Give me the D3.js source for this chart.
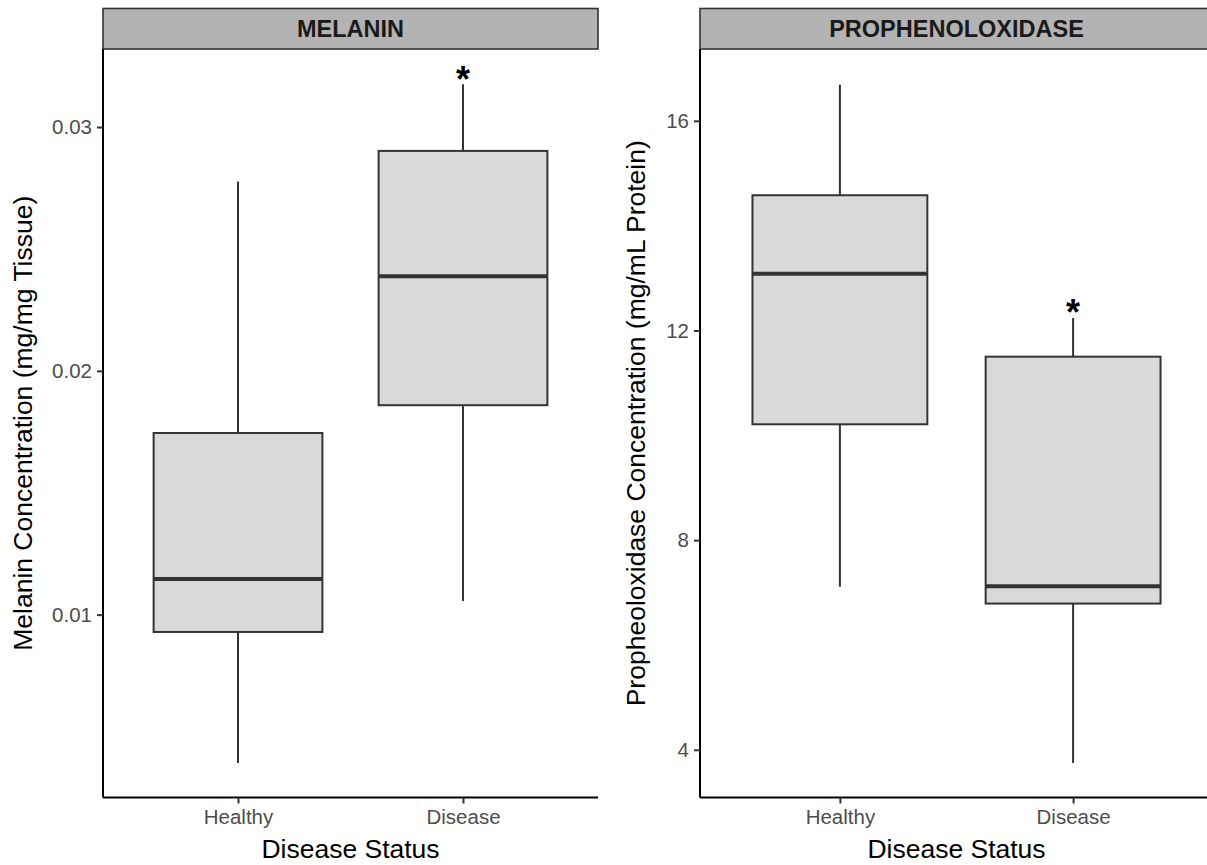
<!DOCTYPE html>
<html>
<head>
<meta charset="utf-8">
<script src="https://cdn.jsdelivr.net/npm/d3@7"></script>
<style>
  body { margin: 0; background: #fff; }
  svg { display: block; font-family: "Liberation Sans", Arial, sans-serif; }
</style>
</head>
<body>
<div id="chart"></div>
<script>
// groups on the x axis
var groups = ["Healthy", "Disease"];

// melanin (mg/mg tissue): whisker low, Q1, median, Q3, whisker high
var melaninLow    = [0.00392, 0.01056];
var melaninQ1     = [0.00929, 0.01859];
var melaninMedian = [0.01146, 0.02388];
var melaninQ3     = [0.01745, 0.02902];
var melaninHigh   = [0.02777, 0.03175];
var melaninTicks  = [0.01, 0.02, 0.03];
var melaninStar   = ["", "*"];

// prophenoloxidase (mg/mL protein)
var poLow    = [7.11, 3.75];
var poQ1     = [10.21, 6.79];
var poMedian = [13.08, 7.12];
var poQ3     = [14.58, 11.50];
var poHigh   = [16.69, 12.24];
var poTicks  = [4, 8, 12, 16];
var poStar   = ["", "*"];

var panels = [
  { title: "MELANIN", ylab: "Melanin Concentration (mg/mg Tissue)",
    low: melaninLow, q1: melaninQ1, med: melaninMedian, q3: melaninQ3, high: melaninHigh,
    ticks: melaninTicks, star: melaninStar, domain: [0.0025, 0.0332],
    fmt: d3.format(".2f"), left: 103, right: 598, ylabX: 32 },
  { title: "PROPHENOLOXIDASE", ylab: "Propheoloxidase Concentration (mg/mL Protein)",
    low: poLow, q1: poQ1, med: poMedian, q3: poQ3, high: poHigh,
    ticks: poTicks, star: poStar, domain: [3.09, 17.37],
    fmt: d3.format("d"), left: 700, right: 1213, ylabX: 645 }
];

var W = 1207, H = 865;
var plotTop = 49, plotBottom = 797.5, stripTop = 8.5;

var svg = d3.select("#chart").append("svg")
    .attr("width", W)
    .attr("height", H);

panels.forEach(function(p) {
  var g = svg.append("g");

  // ggplot discrete axis: 0.6 of a step of space on each side
  var x = d3.scalePoint()
      .domain(groups)
      .range([p.left, p.right])
      .padding(0.6);
  var boxW = x.step() * 0.75;

  var y = d3.scaleLinear()
      .domain(p.domain)
      .range([plotBottom, plotTop]);

  // strip header
  g.append("rect")
      .attr("x", p.left)
      .attr("y", stripTop)
      .attr("width", p.right - p.left)
      .attr("height", plotTop - stripTop)
      .attr("fill", "#b3b3b3")
      .attr("stroke", "#333")
      .attr("stroke-width", 1.6);
  g.append("text")
      .attr("x", (p.left + p.right) / 2)
      .attr("y", (stripTop + plotTop) / 2)
      .attr("dy", "0.36em")
      .attr("text-anchor", "middle")
      .style("font-size", "23.5px")
      .style("font-weight", "bold")
      .attr("fill", "#1a1a1a")
      .text(p.title);

  var idx = d3.range(groups.length);

  // whiskers
  g.selectAll(".whisker").data(idx).enter().append("line")
      .attr("x1", function(i) { return x(groups[i]); })
      .attr("x2", function(i) { return x(groups[i]); })
      .attr("y1", function(i) { return y(p.low[i]); })
      .attr("y2", function(i) { return y(p.high[i]); })
      .attr("stroke", "#333")
      .attr("stroke-width", 2);

  // boxes
  g.selectAll(".box").data(idx).enter().append("rect")
      .attr("x", function(i) { return x(groups[i]) - boxW / 2; })
      .attr("y", function(i) { return y(p.q3[i]); })
      .attr("width", boxW)
      .attr("height", function(i) { return y(p.q1[i]) - y(p.q3[i]); })
      .attr("fill", "#d9d9d9")
      .attr("stroke", "#333")
      .attr("stroke-width", 2);

  // medians
  g.selectAll(".median").data(idx).enter().append("line")
      .attr("x1", function(i) { return x(groups[i]) - boxW / 2; })
      .attr("x2", function(i) { return x(groups[i]) + boxW / 2; })
      .attr("y1", function(i) { return y(p.med[i]); })
      .attr("y2", function(i) { return y(p.med[i]); })
      .attr("stroke", "#333")
      .attr("stroke-width", 4);

  // significance stars
  g.selectAll(".star").data(idx.filter(function(i) { return p.star[i]; })).enter().append("text")
      .attr("x", function(i) { return x(groups[i]); })
      .attr("y", function(i) { return y(p.high[i]); })
      .attr("dy", "0.2em")
      .attr("text-anchor", "middle")
      .style("font-size", "36px")
      .style("font-weight", "bold")
      .attr("fill", "#000")
      .text(function(i) { return p.star[i]; });

  // y axis
  var yAxis = g.append("g")
      .attr("transform", "translate(" + p.left + ",0)")
      .call(d3.axisLeft(y).tickValues(p.ticks).tickFormat(p.fmt).tickSize(6).tickPadding(5));
  yAxis.select(".domain").attr("d", "M0," + plotTop + "V" + plotBottom).attr("stroke", "#000").attr("stroke-width", 2);
  yAxis.selectAll(".tick line").attr("stroke", "#333").attr("stroke-width", 2);
  yAxis.selectAll(".tick text").attr("fill", "#4d4d4d").style("font-size", "20.5px");

  // x axis
  var xAxis = g.append("g")
      .attr("transform", "translate(0," + plotBottom + ")")
      .call(d3.axisBottom(x).tickSize(6).tickPadding(6));
  xAxis.select(".domain").attr("d", "M" + p.left + ",0H" + p.right).attr("stroke", "#000").attr("stroke-width", 2);
  xAxis.selectAll(".tick line").attr("stroke", "#333").attr("stroke-width", 2);
  xAxis.selectAll(".tick text").attr("fill", "#4d4d4d").style("font-size", "20.5px");

  // axis titles
  g.append("text")
      .attr("x", (p.left + p.right) / 2)
      .attr("y", 858)
      .attr("text-anchor", "middle")
      .style("font-size", "26.5px")
      .attr("fill", "#000")
      .text("Disease Status");
  g.append("text")
      .attr("transform", "translate(" + p.ylabX + "," + ((plotTop + plotBottom) / 2) + ") rotate(-90)")
      .attr("text-anchor", "middle")
      .style("font-size", "26.5px")
      .attr("fill", "#000")
      .text(p.ylab);
});
</script>
</body>
</html>
